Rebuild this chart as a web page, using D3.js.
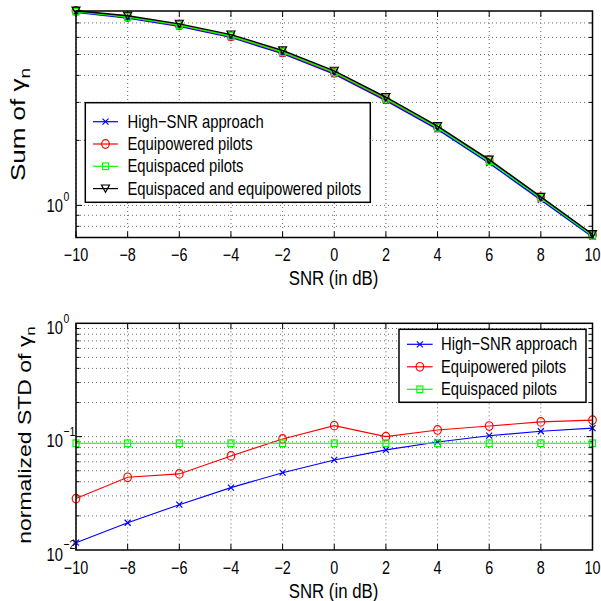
<!DOCTYPE html>
<html>
<head>
<meta charset="utf-8">
<script src="https://cdn.jsdelivr.net/npm/d3@7"></script>
<style>
  body { margin: 0; background: #fff; }
</style>
</head>
<body>
<script>
// SNR points (dB)
const snr = [-10, -8, -6, -4, -2, 0, 2, 4, 6, 8, 10];
const xTicks = [-10, -8, -6, -4, -2, 0, 2, 4, 6, 8, 10];

// top panel: sum of gamma_n
const sumHighSnr   = [7.85, 7.38, 6.75, 6.00, 5.05, 4.06, 3.06, 2.25, 1.57, 1.06, 0.715];
const sumEquiPow   = [7.95, 7.45, 6.82, 6.07, 5.11, 4.11, 3.10, 2.29, 1.62, 1.09, 0.730];
const sumEquiSpace = [7.90, 7.45, 6.84, 6.09, 5.13, 4.13, 3.12, 2.29, 1.60, 1.08, 0.725];
const sumBoth      = [7.98, 7.55, 6.93, 6.18, 5.22, 4.20, 3.17, 2.33, 1.63, 1.095, 0.735];

// bottom panel: normalized STD of gamma_n
const stdHighSnr   = [0.0116, 0.0174, 0.0251, 0.0355, 0.0481, 0.0623, 0.0764, 0.0898, 0.102, 0.1115, 0.119];
const stdEquiPow   = [0.0284, 0.0438, 0.0469, 0.0676, 0.0955, 0.125, 0.100, 0.1146, 0.124, 0.135, 0.140];
const stdEquiSpace = [0.0874, 0.0874, 0.0874, 0.0874, 0.0874, 0.0874, 0.0874, 0.0874, 0.0874, 0.0874, 0.0874];

const topLabels = ["High\u2212SNR approach", "Equipowered pilots", "Equispaced pilots", "Equispaced and equipowered pilots"];
const botLabels = ["High\u2212SNR approach", "Equipowered pilots", "Equispaced pilots"];

const FONT = "'Liberation Sans', Arial, Helvetica, sans-serif";
const SX = 0.8; // the original figure is squeezed horizontally

const svg = d3.select("body").append("svg")
    .attr("width", 601)
    .attr("height", 601);

svg.append("rect").attr("width", 601).attr("height", 601).attr("fill", "#fff");

// text helper, squeezed like the source picture
function txt(parent, x, y, s, size, anchor, base) {
    return parent.append("text")
        .attr("transform", "translate(" + x + "," + y + ") scale(" + SX + ",1)")
        .attr("text-anchor", anchor || "middle")
        .attr("dominant-baseline", base || "central")
        .attr("font-family", FONT)
        .attr("font-size", size)
        .attr("fill", "#000")
        .text(s);
}

function marker(g, type, color, x, y) {
    if (type == "x") {
        g.append("path").attr("d", "M" + (x-3) + "," + (y-3) + "L" + (x+3) + "," + (y+3) + "M" + (x-3) + "," + (y+3) + "L" + (x+3) + "," + (y-3))
            .attr("stroke", color).attr("stroke-width", 1.2).attr("fill", "none");
    } else if (type == "o") {
        g.append("ellipse").attr("cx", x).attr("cy", y).attr("rx", 3.8).attr("ry", 4.3)
            .attr("stroke", color).attr("stroke-width", 1.2).attr("fill", "none");
    } else if (type == "s") {
        g.append("rect").attr("x", x - 3).attr("y", y - 3.3).attr("width", 6).attr("height", 6.6)
            .attr("stroke", color).attr("stroke-width", 1.2).attr("fill", "none");
    } else {
        g.append("path").attr("d", "M" + (x-4) + "," + (y-3.6) + "L" + (x+4) + "," + (y-3.6) + "L" + x + "," + (y+3.6) + "Z")
            .attr("stroke", color).attr("stroke-width", 1.2).attr("fill", "none");
    }
}

function drawPanel(p) {
    const g = svg.append("g");
    const x = d3.scaleLinear().domain([-10, 10]).range([p.left, p.right]);
    const y = d3.scaleLog().domain(p.yDomain).range([p.bottom, p.top]);

    // grid: vertical
    xTicks.forEach(function(t) {
        g.append("line").attr("x1", x(t)).attr("x2", x(t)).attr("y1", p.top).attr("y2", p.bottom)
            .attr("stroke", "#444").attr("stroke-width", 0.8).attr("stroke-dasharray", "1,3");
    });
    // grid: horizontal (major + minor of log axis)
    p.yGrid.forEach(function(v) {
        g.append("line").attr("x1", p.left).attr("x2", p.right).attr("y1", y(v)).attr("y2", y(v))
            .attr("stroke", "#444").attr("stroke-width", 0.8).attr("stroke-dasharray", "1,3");
        const len = p.yMajor.indexOf(v) >= 0 ? 6 : 3.5;
        g.append("line").attr("x1", p.left).attr("x2", p.left + len).attr("y1", y(v)).attr("y2", y(v)).attr("stroke", "#000");
        g.append("line").attr("x1", p.right).attr("x2", p.right - len).attr("y1", y(v)).attr("y2", y(v)).attr("stroke", "#000");
    });
    xTicks.forEach(function(t) {
        g.append("line").attr("x1", x(t)).attr("x2", x(t)).attr("y1", p.bottom).attr("y2", p.bottom - 6).attr("stroke", "#000");
        g.append("line").attr("x1", x(t)).attr("x2", x(t)).attr("y1", p.top).attr("y2", p.top + 6).attr("stroke", "#000");
        txt(svg, x(t), p.bottom + 17, t < 0 ? "\u2212" + Math.abs(t) : String(t), 18);
    });

    // y tick labels 10^k
    p.yMajor.forEach(function(v) {
        const e = Math.round(Math.log10(v));
        txt(svg, 63, y(v) + p.yLabOff, "10", 18.5, "end");
        txt(svg, 63.5, y(v) + p.yLabOff - 10, e < 0 ? "\u2212" + Math.abs(e) : String(e), 13, "start");
    });

    // series
    const line = d3.line().x(function(d, i) { return x(snr[i]); }).y(function(d) { return y(d); });
    p.series.forEach(function(s) {
        g.append("path").datum(s.values).attr("d", line)
            .attr("fill", "none").attr("stroke", s.color).attr("stroke-width", p.lw);
        s.values.forEach(function(v, i) { marker(g, s.marker, s.color, x(snr[i]), y(v)); });
    });

    // frame
    g.append("rect").attr("x", p.left).attr("y", p.top).attr("width", p.right - p.left).attr("height", p.bottom - p.top)
        .attr("fill", "none").attr("stroke", "#000").attr("stroke-width", 1.5);

    // legend
    const L = p.legend;
    g.append("rect").attr("x", L.x0).attr("y", L.y0).attr("width", L.x1 - L.x0).attr("height", L.y1 - L.y0)
        .attr("fill", "#fff").attr("stroke", "#000").attr("stroke-width", 1.5);
    p.series.forEach(function(s, i) {
        const ly = L.firstY + i * L.step;
        g.append("line").attr("x1", L.lineX0).attr("x2", L.lineX1).attr("y1", ly).attr("y2", ly)
            .attr("stroke", s.color).attr("stroke-width", 1.2);
        marker(g, s.marker, s.color, (L.lineX0 + L.lineX1) / 2, ly);
        txt(g, L.textX, ly, p.labels[i], 18.5, "start");
    });

    // x label
    txt(svg, 333.5, p.xLabelY, "SNR (in dB)", 21);
}

drawPanel({
    left: 76, right: 592.5, top: 11, bottom: 237.5,
    yDomain: [0.71, 7.95],
    yMajor: [1],
    yGrid: [0.8, 0.9, 1, 2, 3, 4, 5, 6, 7],
    yLabOff: 1,
    lw: 1.5,
    labels: topLabels,
    series: [
        {values: sumHighSnr, color: "#0000ff", marker: "x"},
        {values: sumEquiPow, color: "#ff0000", marker: "o"},
        {values: sumEquiSpace, color: "#00ff00", marker: "s"},
        {values: sumBoth, color: "#000000", marker: "v"}
    ],
    legend: {x0: 85.3, x1: 370.3, y0: 102.7, y1: 202.3, firstY: 121.7, step: 22.3, lineX0: 93, lineX1: 118, textX: 127.5},
    xLabelY: 277.5
});

drawPanel({
    left: 76, right: 592.5, top: 323.3, bottom: 550,
    yDomain: [0.01, 1],
    yMajor: [0.01, 0.1, 1],
    yGrid: [0.02, 0.03, 0.04, 0.05, 0.06, 0.07, 0.08, 0.09, 0.1, 0.2, 0.3, 0.4, 0.5, 0.6, 0.7, 0.8, 0.9],
    yLabOff: 4.5,
    lw: 1.1,
    labels: botLabels,
    series: [
        {values: stdHighSnr, color: "#0000ff", marker: "x"},
        {values: stdEquiPow, color: "#ff0000", marker: "o"},
        {values: stdEquiSpace, color: "#00ff00", marker: "s"}
    ],
    legend: {x0: 399, x1: 586, y0: 329.3, y1: 402.3, firstY: 344.3, step: 22.5, lineX0: 407, lineX1: 432.7, textX: 441},
    xLabelY: 590.5
});

// y labels (rotated)
const yl1 = svg.append("text")
    .attr("transform", "translate(25,124.5) scale(" + SX + ",1) rotate(-90)")
    .attr("text-anchor", "middle")
    .attr("font-family", FONT)
    .attr("font-size", 26);
yl1.append("tspan").text("Sum of \u03b3");
yl1.append("tspan").attr("dy", 6).attr("font-size", 19).text("n");

const yl2 = svg.append("text")
    .attr("transform", "translate(31,435) scale(" + SX + ",1) rotate(-90)")
    .attr("text-anchor", "middle")
    .attr("font-family", FONT)
    .attr("font-size", 23);
yl2.append("tspan").text("normalized STD of \u03b3");
yl2.append("tspan").attr("dy", 5).attr("font-size", 17).text("n");
</script>
</body>
</html>
